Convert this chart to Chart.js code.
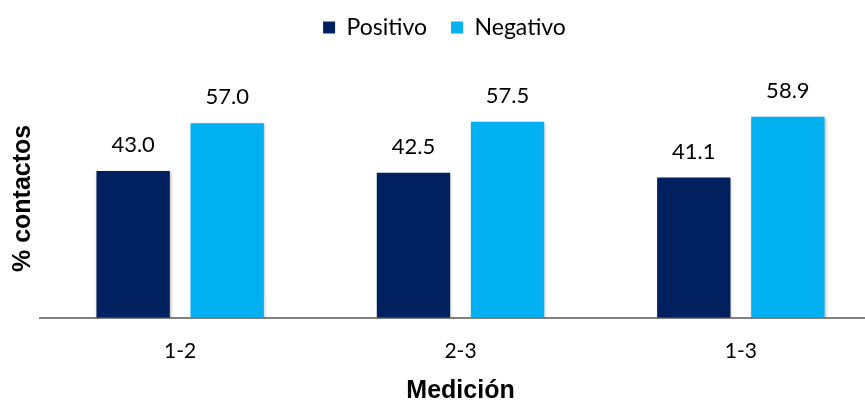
<!DOCTYPE html>
<html lang="es">
<head>
<meta charset="utf-8">
<title>% contactos por medición</title>
<script src="https://cdn.jsdelivr.net/npm/chart.js@4/dist/chart.umd.min.js"></script>
<style>
  html, body { margin: 0; padding: 0; overflow: hidden; background: #fff; }
  #wrap { position: relative; width: 884px; height: 400px; }
</style>
</head>
<body>
<div id="wrap"><canvas id="chart"></canvas></div>
<script>
// Measurement pairs and share of contacts (%) for each result
const categories = ['1-2', '2-3', '1-3'];
const seriesNames = ['Positivo', 'Negativo'];
const positivo = [43.0, 42.5, 41.1];
const negativo = [57.0, 57.5, 58.9];

const colors = ['#002060', '#00B0F0'];
const textFont = 'Lato, "Open Sans", sans-serif';
const titleFont = '"Liberation Sans", Arial, sans-serif';

// Extra room under the legend before the plot starts
const legendGap = {
  id: 'legendGap',
  beforeInit(chart) {
    const fit = chart.legend.fit;
    chart.legend.fit = function () {
      fit.call(this);
      this.height += 30;
    };
  }
};

// Soft drop shadow behind the bars
const barShadow = {
  id: 'barShadow',
  beforeDatasetsDraw(chart) {
    const ctx = chart.ctx;
    ctx.save();
    ctx.shadowColor = 'rgba(0,0,0,0.28)';
    ctx.shadowBlur = 3;
    ctx.shadowOffsetX = 1;
    ctx.shadowOffsetY = 1;
  },
  afterDatasetsDraw(chart) {
    chart.ctx.restore();
  }
};

// Value written above each bar, one decimal
const valueLabels = {
  id: 'valueLabels',
  afterDatasetsDraw(chart) {
    const ctx = chart.ctx;
    ctx.save();
    ctx.font = '22px ' + textFont;
    ctx.fillStyle = '#000';
    ctx.textAlign = 'center';
    ctx.textBaseline = 'alphabetic';
    chart.data.datasets.forEach((ds, i) => {
      chart.getDatasetMeta(i).data.forEach((bar, j) => {
        ctx.fillText(ds.data[j].toFixed(1), bar.x, bar.y - 19);
      });
    });
    ctx.restore();
  }
};

new Chart(document.getElementById('chart'), {
  type: 'bar',
  data: {
    labels: categories,
    datasets: [
      { label: seriesNames[0], data: positivo, backgroundColor: colors[0] },
      { label: seriesNames[1], data: negativo, backgroundColor: colors[1] }
    ]
  },
  options: {
    responsive: true,
    maintainAspectRatio: false,
    animation: false,
    events: [],
    layout: { padding: { top: -8, left: 8, right: 3, bottom: -6 } },
    datasets: {
      bar: { categoryPercentage: 0.671, barPercentage: 0.78, borderWidth: 0 }
    },
    plugins: {
      legend: {
        position: 'top',
        labels: {
          font: { family: textFont, size: 23 },
          color: '#000',
          boxWidth: 12,
          boxHeight: 12,
          padding: 24
        }
      },
      tooltip: { enabled: false }
    },
    scales: {
      x: {
        grid: { display: false, drawTicks: false },
        border: { display: true, color: '#808080', width: 2 },
        ticks: { font: { family: textFont, size: 21 }, color: '#000', padding: 21 },
        title: {
          display: true,
          text: 'Medición',
          font: { family: titleFont, size: 25, weight: 'bold', lineHeight: 1.2 },
          color: '#000',
          padding: { top: -9, bottom: 0 }
        }
      },
      y: {
        min: 0,
        max: 70,
        grid: { display: false, drawTicks: false },
        border: { display: false },
        ticks: { display: false },
        title: {
          display: true,
          text: '% contactos',
          font: { family: titleFont, size: 25, weight: 'bold', lineHeight: 1.2 },
          color: '#000',
          padding: { top: 0, bottom: 2 }
        }
      }
    }
  },
  plugins: [legendGap, barShadow, valueLabels]
});
</script>
</body>
</html>
